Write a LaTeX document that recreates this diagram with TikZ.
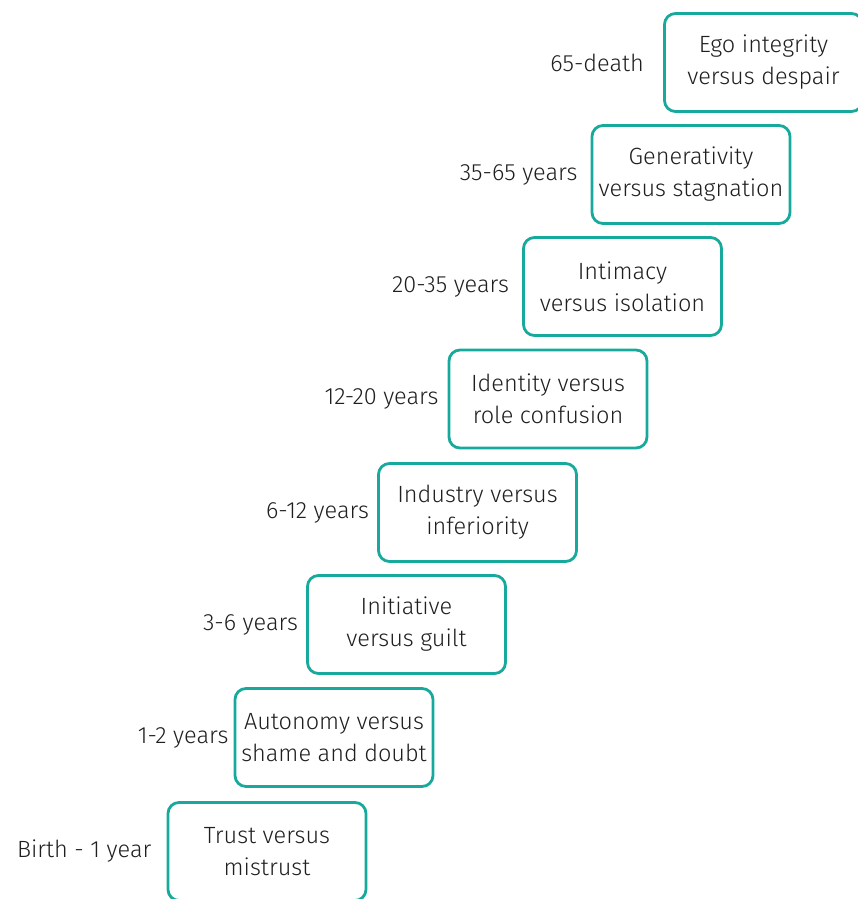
\documentclass[tikz,border=0pt]{standalone}
\usepackage{fontspec}
\setmainfont{Fira Sans Light}
\definecolor{tealline}{HTML}{17A99B}
\definecolor{inktext}{HTML}{1F1F1F}
\begin{document}
\begin{tikzpicture}[x=1pt,y=-1pt,
  stage/.style={draw=tealline, line width=2.8pt, rounded corners=11pt,
    minimum width=198pt, minimum height=98pt, align=center, text=inktext,
    font=\fontsize{23.5}{32}\selectfont, inner sep=0pt},
  age/.style={anchor=east, text=inktext, font=\fontsize{23.5}{32}\selectfont, inner sep=0pt}]
\useasboundingbox (0,0) rectangle (858,899);
\node[stage] (s1) at (267,851.5) {Trust versus\\mistrust};
\node[stage] (s2) at (334,737.5) {Autonomy versus\\shame and doubt};
\node[stage] (s3) at (406.5,624.5) {Initiative\\versus guilt};
\node[stage] (s4) at (477.5,512.5) {Industry versus\\inferiority};
\node[stage] (s5) at (548,399) {Identity versus\\role confusion};
\node[stage] (s6) at (622.5,286.5) {Intimacy\\versus isolation};
\node[stage] (s7) at (691,174.5) {Generativity\\versus stagnation};
\node[stage] (s8) at (763.5,62.5) {Ego integrity\\versus despair};
\node[age] (a1) at ([xshift=-15pt]s1.west) {Birth - 1 year};
\node[age] (a2) at ([xshift=-5pt]s2.west) {1-2 years};
\node[age] (a3) at ([xshift=-8pt]s3.west) {3-6 years};
\node[age] (a4) at ([xshift=-8pt]s4.west) {6-12 years};
\node[age] (a5) at ([xshift=-9pt]s5.west) {12-20 years};
\node[age] (a6) at ([xshift=-13pt]s6.west) {20-35 years};
\node[age] (a7) at ([xshift=-13pt]s7.west) {35-65 years};
\node[age] (a8) at ([xshift=-19pt]s8.west) {65-death};
\end{tikzpicture}
\end{document}
